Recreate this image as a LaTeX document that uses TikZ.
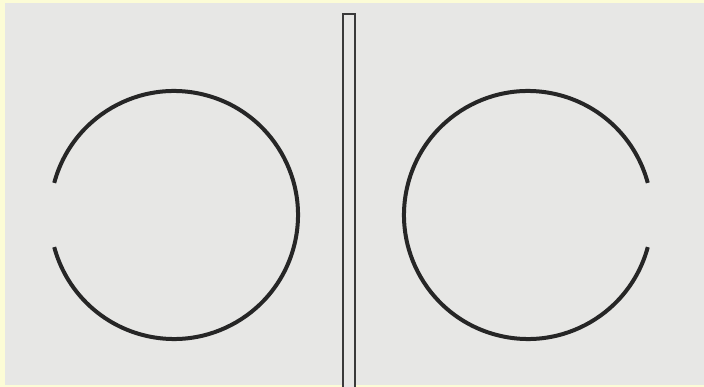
\documentclass[tikz,border=0pt]{standalone}
\usepackage{xcolor}
\definecolor{paper}{HTML}{E7E7E5}
\definecolor{edge}{HTML}{FCFCD6}
\definecolor{ink}{HTML}{262626}
\definecolor{ink2}{HTML}{3A3A3A}
\usetikzlibrary{calc}
\tikzset{
  ring/.style={draw=ink,line width=4pt},
  slot/.style={draw=ink2,line width=1.8pt,fill=paper},
}
\begin{document}
\begin{tikzpicture}[x=1pt,y=-1pt]
% background
\fill[edge] (0,0) rectangle (704,387);
\fill[paper] (5,3) rectangle (704,385);
\useasboundingbox (0,0) rectangle (704,387);
% plate
\draw[slot] (343,14) rectangle (355,392);
% left ring, open to the left
\coordinate (lc) at (174,215);
\draw[ring] ($(lc)+(195:124)$) arc[start angle=195,end angle=525,radius=124];
% right ring, open to the right
\coordinate (rc) at (528,215);
\draw[ring] ($(rc)+(15:124)$) arc[start angle=15,end angle=345,radius=124];
\end{tikzpicture}
\end{document}
